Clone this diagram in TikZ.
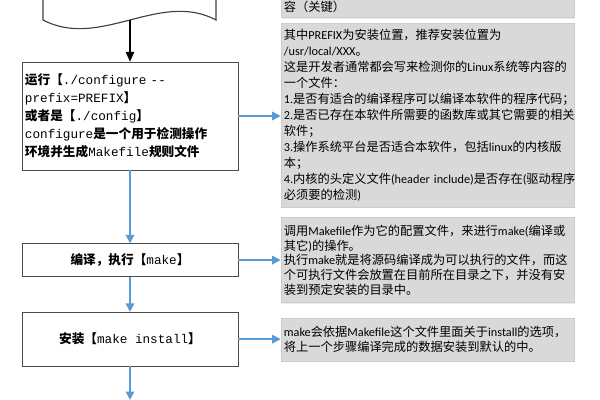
\documentclass[tikz,border=0pt]{standalone}
\usepackage{fontspec}
\setmonofont{Liberation Mono}
\newfontfamily\cjk{Noto Sans CJK SC}
\newfontfamily\lat{Carlito}
\newcommand{\zh}[1]{{\cjk\bfseries #1}}
\newcommand{\en}[1]{{\lat #1}}
\usepackage{xcolor}
\definecolor{arrblue}{HTML}{5B9BD5}
\usetikzlibrary{arrows.meta,positioning,shadows}

\begin{document}
\begin{tikzpicture}[
    x=0.025cm, y=-0.025cm,
    stepbox/.style={rectangle, draw=black!70, fill=white, minimum width=5.4cm, inner xsep=0.075cm, font=\fontsize{9}{12.8}\selectfont},
    note/.style={rectangle, draw=black!20, fill=black!15, minimum width=7.325cm, text width=7.18cm, inner xsep=0.07cm, align=left, font=\cjk\fontsize{8.7}{11.4}\selectfont, drop shadow={opacity=0.15, shadow xshift=0.6pt, shadow yshift=-0.8pt}},
    arr/.style={-{Triangle[length=6pt,width=6pt]}, draw=arrblue, line width=1.2pt}
  ]
    \useasboundingbox (0,0) rectangle (600,400);
    \clip (0,0) rectangle (600,400);

    % document shape at the top
    \draw[black!75, line width=0.8pt] (43,-5) -- (43,20) .. controls (100,50) and (160,-10) .. (216,20) -- (216,-5);
    \coordinate (docend) at (130,20);

    % steps
    \node[stepbox, minimum height=2.7cm, text width=5.25cm, align=left] (cfg) at (130,116)
      {\zh{运行【}\texttt{./configure -{}-}\\
       \texttt{prefix=PREFIX}\zh{】}\\
       \zh{或者是【}\texttt{./config}\zh{】}\\
       \texttt{configure}\zh{是一个用于检测操作}\\
       \zh{环境并生成}\texttt{Makefile}\zh{规则文件}};
    \node[stepbox, minimum height=0.825cm, below=1.825cm of cfg] (mk) {\zh{编译，执行【}\texttt{make}\zh{】}};
    \node[stepbox, minimum height=1.35cm, below=0.875cm of mk] (inst) {\zh{安装【}\texttt{make install}\zh{】}};
    \coordinate (tail) at (130,400);

    % notes
    \node[note, anchor=south] (n1) at (427.5,18) {容（关键）};
    \node[note, minimum height=4.6cm] (n2) at (427.5,115)
      {其中\en{PREFIX}为安装位置，推荐安装位置为\\
       \en{/usr/local/XXX}。\\
       这是开发者通常都会写来检测你的\en{Linux}系统等内容的\\
       一个文件：\\
       \en{1.}是否有适合的编译程序可以编译本软件的程序代码；\\
       \en{2.}是否已存在本软件所需要的函数库或其它需要的相关\\
       软件；\\
       \en{3.}操作系统平台是否适合本软件，包括\en{linux}的内核版\\
       本；\\
       \mbox{\en{4.}内核的头定义文件\en{(header include)}是否存在\en{(}驱动程序}\\
       必须要的检测\en{)}};
    \node[note, minimum height=2.125cm, below=0.25cm of n2, font=\cjk\fontsize{8.7}{10.4}\selectfont] (n3)
      {调用\en{Makefile}作为它的配置文件，来进行\en{make(}编译或\\
       其它\en{)}的操作。\\
       执行\en{make}就是将源码编译成为可以执行的文件，而这\\
       个可执行文件会放置在目前所在目录之下，并没有安\\
       装到预定安装的目录中。};
    \node[note, minimum height=1.075cm, below=0.375cm of n3, font=\cjk\fontsize{8.7}{10.6}\selectfont] (n4)
      {\en{make}会依据\en{Makefile}这个文件里面关于\en{install}的选项，\\
       将上一个步骤编译完成的数据安装到默认的中。};

    % connectors
    \draw[-{Triangle[length=7pt,width=6pt]}, line width=0.8pt] (docend) -- (cfg.north);
    \foreach \i/\j in {cfg/mk,mk/inst,inst/tail}
      \draw[arr] (\i) -- (\j);
    \foreach \i/\j in {cfg/n2,mk/n3,inst/n4}
      \draw[arr] (\i.east) -- (\i.east -| \j.west);
  \end{tikzpicture}
\end{document}
